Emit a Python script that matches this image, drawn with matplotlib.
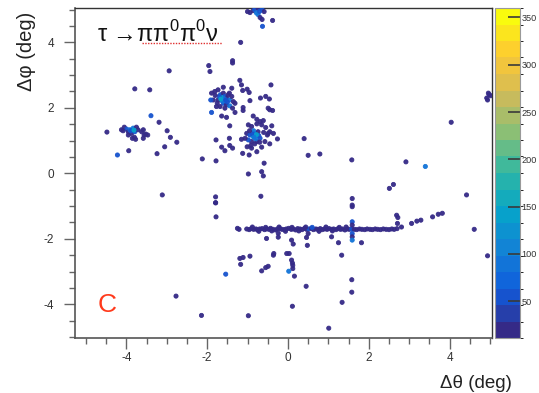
import numpy as np
import matplotlib
matplotlib.use("Agg")
import matplotlib.pyplot as plt
from matplotlib.colors import LinearSegmentedColormap, BoundaryNorm
from matplotlib.cm import ScalarMappable
from matplotlib.lines import Line2D

plt.rcParams['font.family'] = ['Liberation Sans', 'DejaVu Sans']
plt.rcParams['mathtext.fontset'] = 'custom'
plt.rcParams['mathtext.rm'] = 'Liberation Sans'
plt.rcParams['axes.unicode_minus'] = False

# ---- filled bins: (dtheta [deg], dphi [deg], entries) ----
# top cluster
top_x = [-1.00, -0.94, -0.86, -0.82, -0.74, -0.64, -0.59, -0.74, -0.69, -0.64, -0.63, -0.38, -1.17, -0.78, -0.70]
top_y = [4.94, 4.91, 4.97, 5.00, 5.04, 5.00, 4.94, 4.85, 4.76, 4.70, 4.49, 4.67, 4.00, 4.90, 4.95]
top_n = [18, 18, 18, 60, 18, 60, 18, 95, 18, 18, 60, 18, 18, 95, 60]

# isolated points, upper left half
ul_x = [-1.37, -1.37, -1.96, -1.93, -2.94, -3.79, -3.42, -3.39, -3.19, -4.48, -2.99, -2.91, -2.75,
        -3.05, -3.94, -3.24, -4.22, -2.12, -1.78, -3.11, -1.79, -1.79, -1.78, -0.67, -0.59, -0.98,
        -0.65, -0.61, 0.40, 0.50, 0.79, 1.58, 2.92, 3.40, 4.04, 2.51, 2.61, 4.42]
ul_y = [3.44, 3.37, 3.29, 3.11, 3.13, 2.58, 2.55, 1.76, 1.56, 1.26, 1.30, 1.10, 0.95,
        0.81, 0.69, 0.60, 0.56, 0.44, 0.38, -0.66, -0.72, -0.90, -1.33, -0.70, 0.31, -0.02,
        0.05, -0.08, 1.06, 0.55, 0.59, 0.41, 0.35, 0.21, 1.56, -0.46, -0.34, -0.66]
ul_n = [18, 18, 18, 18, 18, 18, 18, 60, 18, 18, 18, 18, 18,
        18, 18, 18, 60, 18, 18, 18, 18, 18, 18, 18, 18, 18,
        18, 18, 18, 18, 18, 18, 18, 95, 18, 18, 18, 18]

# cluster near (-3.8, 1.3)
cl1_x = [-4.12, -4.05, -3.99, -3.95, -3.91, -3.87, -3.83, -3.79, -3.75, -3.71, -3.80, -3.85, -3.77,
         -3.62, -3.58, -3.56, -3.52, -3.47, -3.58, -3.95, -4.08, -3.89, -3.81]
cl1_y = [1.33, 1.41, 1.35, 1.27, 1.33, 1.22, 1.38, 1.27, 1.41, 1.33, 1.10, 1.07, 1.04,
         1.27, 1.33, 1.17, 1.20, 1.17, 1.07, 1.17, 1.30, 1.30, 1.32]
cl1_n = [18, 18, 60, 18, 95, 18, 95, 60, 18, 18, 18, 18, 18,
         18, 18, 18, 18, 18, 18, 18, 18, 60, 135]

# cluster near (-1.6, 2.3)
cl2_x = [-1.89, -1.81, -1.73, -1.67, -1.60, -1.56, -1.52, -1.48, -1.44, -1.39, -1.35, -1.64, -1.73,
         -1.85, -1.91, -1.60, -1.52, -1.44, -1.56, -1.68, -1.77, -1.37, -1.31, -1.60, -1.39, -1.89,
         -1.64, -1.52, -1.31, -1.11, -0.94, -0.86, -0.77, -1.19, -1.15, -1.12, -1.01, -0.96, -0.68,
         -0.55, -0.46, -0.42, -1.11, -0.49, -0.45, -0.38, -1.65, -1.58, -1.70, -1.62, -1.50, -1.75,
         -1.45, -1.80, -1.66, -1.54]
cl2_y = [2.45, 2.50, 2.55, 2.40, 2.45, 2.35, 2.30, 2.40, 2.24, 2.35, 2.19, 2.24, 2.24,
         2.24, 2.24, 2.14, 2.09, 2.06, 1.99, 2.04, 2.04, 1.99, 2.14, 2.63, 2.60, 1.86,
         1.75, 1.71, 1.86, 1.92, 2.22, 1.75, 1.65, 2.84, 2.70, 2.53, 2.57, 2.47, 2.30,
         2.35, 2.27, 2.70, 2.01, 1.99, 1.94, 1.92, 2.32, 2.28, 2.35, 2.20, 2.18, 2.15,
         2.45, 2.38, 2.27, 2.24]
cl2_n = [18, 18, 18, 60, 18, 60, 18, 18, 95, 18, 18, 135, 18,
         18, 60, 60, 18, 95, 18, 18, 18, 18, 18, 18, 18, 60,
         18, 18, 18, 18, 18, 18, 18, 18, 18, 18, 18, 18, 18,
         18, 18, 18, 18, 18, 18, 18, 135, 95, 60, 95, 60, 18,
         18, 18, 135, 60]

# cluster near (-0.8, 1.1)
cl3_x = [-0.98, -0.90, -0.77, -0.69, -0.65, -0.61, -0.40, -0.45, -0.36, -0.49, -0.26, -1.02, -0.94,
         -0.86, -0.82, -0.74, -0.69, -0.77, -0.90, -0.98, -1.06, -1.15, -1.01, -0.90, -0.77, -0.65,
         -0.57, -0.45, -1.12, -0.96, -1.44, -1.45, -1.78, -1.64, -1.56, -1.44, -1.37, -0.51, -0.85,
         -0.80, -0.88, -0.72, -0.95, -0.82, -0.70, -0.60, -0.55, -0.92, -0.78, -0.84]
cl3_y = [1.48, 1.43, 1.51, 1.58, 1.48, 1.61, 1.45, 1.27, 1.22, 1.22, 1.05, 1.22, 1.17,
         1.12, 1.22, 1.27, 1.07, 0.97, 0.97, 1.02, 1.07, 1.04, 0.81, 0.77, 0.66, 0.80,
         0.97, 0.90, 0.61, 0.56, 1.45, 1.07, 1.02, 0.80, 0.69, 0.85, 0.77, 1.17, 1.30,
         1.05, 1.20, 1.15, 1.30, 0.90, 0.95, 1.25, 1.40, 0.85, 1.18, 1.10]
cl3_n = [18, 18, 18, 18, 18, 18, 18, 18, 18, 18, 18, 18, 60,
         135, 95, 18, 60, 18, 18, 60, 18, 18, 18, 18, 18, 18,
         18, 18, 18, 18, 18, 18, 18, 18, 18, 18, 18, 18, 95,
         95, 60, 60, 18, 18, 18, 18, 18, 18, 135, 95]

# cluster at the right edge
cl4_x = [4.92, 4.96, 4.98, 5.02, 4.94]
cl4_y = [2.30, 2.45, 2.40, 2.37, 2.24]
cl4_n = [18, 18, 18, 18, 18]

# band near dphi = -1.7
band_x = [-1.25, -1.21, -1.02, -0.96, -0.91, -0.85, -0.79, -0.75, -0.70, -0.64, -0.58, -0.53, -0.47,
          -0.43, -0.37, -0.31, -0.26, -0.20, -0.15, -0.09, -0.04, 0.02, 0.08, 0.13, 0.19, 0.24,
          0.30, 0.35, 0.41, 0.46, 0.52, 0.58, 0.63, 0.69, 0.74, 0.80, 0.85, 0.91, 0.97, 1.02,
          1.08, 1.13, 1.19, 1.24, 1.30, 1.35, 1.41, 1.47, 1.52, 1.58, 1.64, 1.70, 1.77, 1.83,
          1.90, 1.96, 2.03, 2.09, 2.16, 2.22, 2.29, 2.36, 2.43, 2.50, 2.57, 2.63, 2.70,
          -0.88, -0.72, -0.55, -0.40, -0.22, -0.06, 0.10, 0.27, 0.44, 0.60, 0.77, 0.94, 1.10,
          1.27, 1.44]
band_y = [-1.68, -1.71, -1.70, -1.72, -1.69, -1.71, -1.70, -1.73, -1.70, -1.69, -1.72, -1.70, -1.71,
          -1.68, -1.71, -1.73, -1.70, -1.69, -1.71, -1.72, -1.70, -1.68, -1.71, -1.70, -1.73, -1.69,
          -1.70, -1.72, -1.68, -1.71, -1.70, -1.68, -1.72, -1.70, -1.71, -1.69, -1.72, -1.70, -1.71,
          -1.69, -1.71, -1.70, -1.72, -1.69, -1.71, -1.70, -1.73, -1.70, -1.71, -1.70, -1.71, -1.72,
          -1.70, -1.71, -1.72, -1.70, -1.71, -1.72, -1.70, -1.71, -1.72, -1.70, -1.71, -1.72, -1.70,
          -1.71, -1.69,
          -1.64, -1.77, -1.65, -1.76, -1.64, -1.77, -1.65, -1.76, -1.64, -1.65, -1.77, -1.64, -1.76,
          -1.65, -1.64]
band_n = [18] * 30 + [60] + [18] * 18 + [60] + [18] * 17 + [18] * 9 + [60] + [18] * 5

# points below the band and the tail towards large dtheta
lo_x = [-0.53, -0.24, -0.24, 0.09, 0.13, 0.46, 0.48, 0.50, 1.08, 1.25, 1.33, 1.82, 1.59, 1.59, 1.59,
        1.59, 1.59, 1.59, 1.59, 1.59, 2.69, 2.72, 2.71, 2.81, 3.06, 3.19, 3.29, 3.58, 3.72, 3.82,
        4.61, 4.94, -1.19, -1.11, -0.94, -1.17, -0.36, -0.35, -0.03, 0.03, 0.09, 0.11, 0.12, 0.12,
        0.02, 0.16, -0.49, -0.55, -0.65, -1.54, -2.14, -0.98, 0.11, 0.45, 1.01, 1.58, 1.58, 1.34,
        -2.77, -1.79]
lo_y = [-1.99, -1.83, -1.95, -2.04, -2.16, -1.96, -2.20, -1.84, -1.94, -2.12, -2.50, -2.12, -0.77,
        -0.97, -1.02, -1.48, -1.58, -1.84, -1.94, -2.04, -1.28, -1.35, -1.53, -1.64, -1.53, -1.46,
        -1.43, -1.33, -1.25, -1.22, -1.71, -2.52, -2.60, -2.57, -2.53, -2.78, -2.50, -2.45, -2.45,
        -2.45, -2.65, -2.74, -2.81, -2.91, -2.99, -3.14, -2.84, -2.88, -2.98, -3.08, -4.34, -4.35,
        -4.06, -3.45, -4.73, -3.25, -3.63, -3.94, -3.75, -0.90]
lo_n = [18, 18, 18, 18, 18, 18, 18, 18, 18, 18, 18, 18, 18, 18, 18, 60, 18, 60, 18, 95,
        18, 18, 18, 18, 18, 18, 18, 18, 18, 18, 18, 18, 18, 18, 18, 18, 18, 18, 18, 18,
        18, 18, 18, 18, 95, 18, 18, 18, 18, 60, 18, 18, 18, 18, 18, 18, 18, 18, 18, 18]

dtheta = np.array(top_x + ul_x + cl1_x + cl2_x + cl3_x + cl4_x + band_x + lo_x)
dphi = np.array(top_y + ul_y + cl1_y + cl2_y + cl3_y + cl4_y + band_y + lo_y)
entries = np.array(top_n + ul_n + cl1_n + cl2_n + cl3_n + cl4_n + band_n + lo_n)

z_min, z_max = 11, 360
n_contours = 20
cbar_ticks = [50, 100, 150, 200, 250, 300, 350]
cbar_labels = ["50", "100", "150", "200", "250", "300", "350"]

# ROOT "kBird" palette
stops = [0.0, 0.125, 0.25, 0.375, 0.5, 0.625, 0.75, 0.875, 1.0]
red = [0.2082, 0.0592, 0.0780, 0.0232, 0.1802, 0.5301, 0.8186, 0.9956, 0.9764]
green = [0.1664, 0.3599, 0.5041, 0.6419, 0.7178, 0.7492, 0.7328, 0.7862, 0.9832]
blue = [0.5293, 0.8684, 0.8385, 0.7914, 0.6425, 0.4662, 0.3499, 0.1968, 0.0539]
bird = LinearSegmentedColormap.from_list(
    "bird", [(s, (r, g, b)) for s, r, g, b in zip(stops, red, green, blue)], N=256)
levels = np.linspace(z_min, z_max, n_contours + 1)
norm = BoundaryNorm(levels, bird.N, clip=True)

W, H = 539, 393
fig = plt.figure(figsize=(W / 100, H / 100), dpi=100)
fig.patch.set_facecolor("white")

ax_l, ax_r, ax_t, ax_b = 75, 492, 8, 338
ax = fig.add_axes([ax_l / W, 1 - ax_b / H, (ax_r - ax_l) / W, (ax_b - ax_t) / H])

ax.scatter(dtheta, dphi, c=entries, cmap=bird, norm=norm, marker="o", s=9,
           linewidths=0.6, edgecolors="face", alpha=0.95, zorder=3)

ax.set_xlim(-5.27, 5.05)
ax.set_ylim(-5.03, 5.05)
ax.set_xticks([-4, -2, 0, 2, 4])
ax.set_yticks([-4, -2, 0, 2, 4])
ax.set_xticks(np.arange(-5.0, 5.01, 0.5), minor=True)
ax.set_yticks(np.arange(-5.0, 5.01, 0.5), minor=True)
ax.tick_params(which="major", direction="out", length=8, width=1, color="#666666",
               labelsize=8.5, labelcolor="#333333", pad=2)
ax.tick_params(axis="y", which="major", pad=7)
ax.tick_params(which="minor", direction="out", length=4.5, width=1, color="#666666")

for side in ("left", "bottom"):
    ax.spines[side].set_color("#555555")
    ax.spines[side].set_linewidth(1.2)
for side in ("top", "right"):
    ax.spines[side].set_color("#333333")
    ax.spines[side].set_linewidth(1.0)
    ax.spines[side].set_linestyle((0, (1.5, 1)))

# colour scale
cax = fig.add_axes([495 / W, 1 - 338 / H, 25 / W, 330 / H])
sm = ScalarMappable(norm=norm, cmap=bird)
cb = fig.colorbar(sm, cax=cax, boundaries=levels, ticks=cbar_ticks)
cb.outline.set_edgecolor("#999999")
cb.outline.set_linewidth(0.8)
cax.set_yticklabels(cbar_labels)
cax.tick_params(direction="in", length=9, width=1.2, color="#3a3a3a",
                labelsize=6.6, labelcolor="#333333", pad=1)

# axis titles
fig.text(512 / W, 1 - 383 / H, "Δθ (deg)", ha="right", va="center", fontsize=13.5, color="#222222")
fig.text(26 / W, 1 - 12 / H, "Δφ (deg)", ha="center", va="top", rotation=90, fontsize=14.5,
         color="#222222")

# decay channel label
fig.text(97 / W, 1 - 42 / H, "τ →ππ$^{\\mathrm{0}}$π$^{\\mathrm{0}}$ν", ha="left", va="baseline",
         fontsize=17, color="#111111")
fig.add_artist(Line2D([142 / W, 222 / W], [1 - 42.5 / H, 1 - 42.5 / H], transform=fig.transFigure,
                      color="#e03030", lw=1.0, linestyle=(0, (1, 1))))

# panel letter
fig.text(107 / W, 1 - 305 / H, "C", ha="center", va="center", fontsize=19, color="#ff3a1c")

fig.savefig("out.png", dpi=100)
